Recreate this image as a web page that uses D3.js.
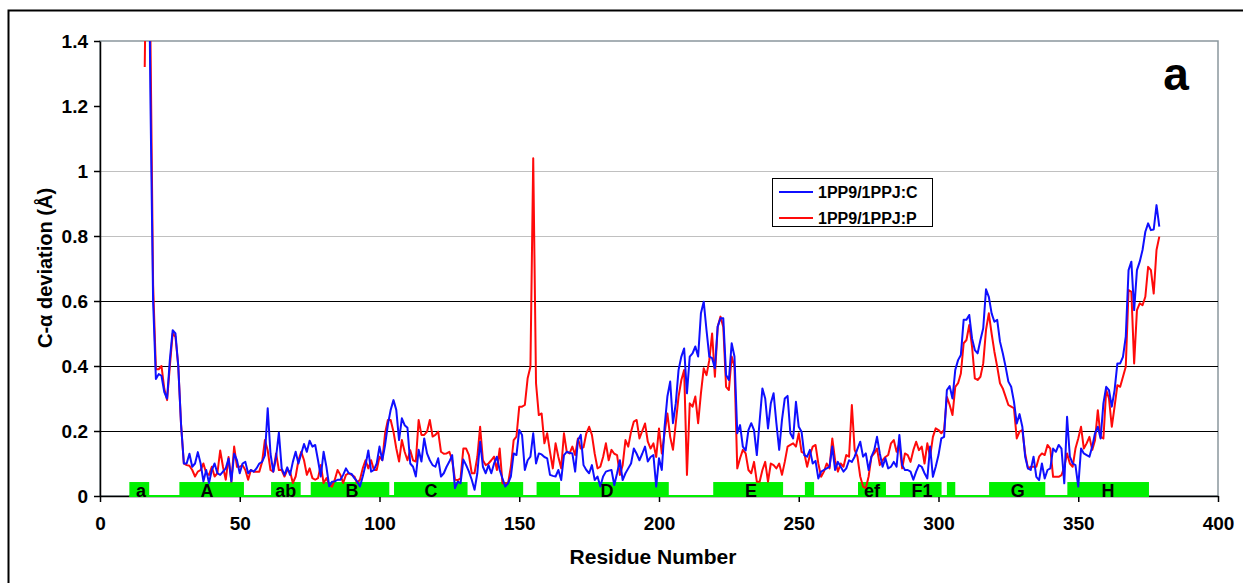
<!DOCTYPE html>
<html>
<head>
<meta charset="utf-8">
<script src="https://cdn.jsdelivr.net/npm/d3@7"></script>
<style>
  body { margin: 0; background: #fff; }
  text { font-family: Arial, "Liberation Sans", sans-serif; font-weight: bold; }
</style>
</head>
<body>
<div id="chart"></div>
<script>
// data (residue numbers start at 16)
var firstResidue = 16;

var seriesC = [
  2.4, 2.2, 1.25, 0.6,
  0.36, 0.375, 0.37, 0.32, 0.30, 0.42, 0.51, 0.50, 0.40, 0.22,
  0.10, 0.10, 0.13, 0.09, 0.10, 0.135, 0.10, 0.045, 0.08, 0.04,
  0.08, 0.10, 0.07, 0.065, 0.075, 0.085, 0.115, 0.045, 0.13, 0.11,
  0.07, 0.10, 0.105, 0.07, 0.08, 0.075, 0.085, 0.10, 0.105, 0.125,
  0.27, 0.13, 0.075, 0.12, 0.195, 0.085, 0.065, 0.088, 0.065, 0.105,
  0.136, 0.10, 0.13, 0.16, 0.136, 0.17, 0.152, 0.157, 0.11, 0.06,
  0.136, 0.09, 0.03, 0.044, 0.045, 0.05, 0.05, 0.065, 0.085, 0.07,
  0.068, 0.055, 0.045, 0.029, 0.06, 0.095, 0.14, 0.075, 0.08, 0.10,
  0.152, 0.11, 0.157, 0.22, 0.265, 0.295, 0.265, 0.172, 0.239, 0.218,
  0.21, 0.10, 0.09, 0.06, 0.142, 0.106, 0.177, 0.131, 0.11, 0.095,
  0.09, 0.116, 0.06, 0.07, 0.09, 0.106, 0.126, 0.024, 0.044, 0.039,
  0.112, 0.095, 0.075, 0.05, 0.019, 0.07, 0.167, 0.09, 0.07, 0.095,
  0.07, 0.10, 0.121, 0.08, 0.054, 0.029, 0.039, 0.06, 0.131, 0.126,
  0.203, 0.188, 0.08, 0.11, 0.121, 0.193, 0.10, 0.131, 0.128, 0.12,
  0.116, 0.065, 0.062, 0.06, 0.08, 0.049, 0.126, 0.136, 0.133, 0.131,
  0.075, 0.172, 0.188, 0.095, 0.08, 0.07, 0.095, 0.049, 0.06, 0.029,
  0.06, 0.075, 0.078, 0.08, 0.034, 0.07, 0.11, 0.049, 0.07, 0.085,
  0.10, 0.146, 0.13, 0.11, 0.13, 0.152, 0.106, 0.12, 0.126, 0.029,
  0.116, 0.08, 0.213, 0.306, 0.352, 0.224, 0.285, 0.388, 0.429, 0.454,
  0.316, 0.429, 0.439, 0.46, 0.429, 0.562, 0.598, 0.51, 0.429, 0.424,
  0.393, 0.521, 0.547, 0.547, 0.372, 0.357, 0.47, 0.429, 0.193, 0.218,
  0.152, 0.14, 0.203, 0.224, 0.203, 0.126, 0.23, 0.331, 0.30, 0.208,
  0.285, 0.316, 0.224, 0.142, 0.234, 0.30, 0.308, 0.193, 0.177, 0.29,
  0.213, 0.198, 0.126, 0.121, 0.142, 0.10, 0.108, 0.054, 0.075, 0.08,
  0.085, 0.09, 0.152, 0.08, 0.105, 0.09, 0.075, 0.085, 0.11, 0.105,
  0.121, 0.145, 0.167, 0.121, 0.131, 0.08, 0.121, 0.141, 0.182, 0.131,
  0.09, 0.116, 0.085, 0.09, 0.105, 0.09, 0.188, 0.095, 0.08, 0.08,
  0.075, 0.05, 0.075, 0.095, 0.09, 0.07, 0.054, 0.152, 0.059, 0.09,
  0.126, 0.177, 0.182, 0.326, 0.338, 0.30, 0.388, 0.418, 0.434, 0.542,
  0.542, 0.557, 0.485, 0.449, 0.439, 0.48, 0.516, 0.636, 0.613, 0.562,
  0.536, 0.542, 0.475, 0.439, 0.398, 0.352, 0.336, 0.29, 0.223, 0.252,
  0.213, 0.121, 0.085, 0.08, 0.121, 0.059, 0.049, 0.10, 0.054, 0.08,
  0.085, 0.146, 0.136, 0.157, 0.146, 0.039, 0.244, 0.121, 0.10, 0.095,
  0.029, 0.146, 0.131, 0.126, 0.121, 0.152, 0.193, 0.213, 0.177, 0.285,
  0.336, 0.326, 0.275, 0.326, 0.408, 0.408, 0.428, 0.49, 0.695, 0.721,
  0.572, 0.695, 0.721, 0.757, 0.813, 0.839, 0.818, 0.82, 0.895, 0.829
];

var seriesP = [
  1.32, 2.0, 1.45, 0.65,
  0.39, 0.39, 0.40, 0.33, 0.295, 0.40, 0.50, 0.49, 0.40, 0.22,
  0.10, 0.095, 0.093, 0.08, 0.06, 0.075, 0.08, 0.10, 0.07, 0.065,
  0.09, 0.06, 0.07, 0.14, 0.09, 0.05, 0.12, 0.044, 0.152, 0.09,
  0.09, 0.095, 0.08, 0.05, 0.08, 0.075, 0.075, 0.075, 0.105, 0.172,
  0.14, 0.08, 0.075, 0.131, 0.08, 0.08, 0.06, 0.08, 0.075, 0.04,
  0.06, 0.11, 0.136, 0.11, 0.065, 0.085, 0.055, 0.05, 0.055, 0.095,
  0.04, 0.055, 0.035, 0.029, 0.05, 0.08, 0.065, 0.04, 0.065, 0.07,
  0.065, 0.06, 0.04, 0.05, 0.085, 0.11, 0.085, 0.11, 0.08, 0.08,
  0.121, 0.11, 0.193, 0.234, 0.234, 0.198, 0.147, 0.106, 0.172, 0.136,
  0.11, 0.141, 0.11, 0.106, 0.234, 0.188, 0.188, 0.198, 0.234, 0.183,
  0.188, 0.198, 0.136, 0.13, 0.131, 0.136, 0.11, 0.05, 0.049, 0.054,
  0.146, 0.146, 0.126, 0.07, 0.07, 0.12, 0.213, 0.11, 0.095, 0.10,
  0.11, 0.121, 0.08, 0.146, 0.039, 0.039, 0.039, 0.09, 0.172, 0.183,
  0.275, 0.275, 0.28, 0.362, 0.398, 1.039, 0.347, 0.249, 0.254, 0.162,
  0.193, 0.136, 0.085, 0.162, 0.12, 0.085, 0.193, 0.136, 0.131, 0.152,
  0.126, 0.177, 0.146, 0.15, 0.193, 0.213, 0.188, 0.13, 0.085, 0.09,
  0.12, 0.162, 0.11, 0.142, 0.13, 0.126, 0.065, 0.095, 0.172, 0.152,
  0.198, 0.229, 0.234, 0.177, 0.20, 0.223, 0.167, 0.146, 0.162, 0.12,
  0.208, 0.131, 0.193, 0.254, 0.182, 0.142, 0.224, 0.306, 0.357, 0.388,
  0.065, 0.285, 0.275, 0.306, 0.224, 0.316, 0.393, 0.372, 0.418, 0.50,
  0.367, 0.521, 0.552, 0.52, 0.336, 0.326, 0.429, 0.398, 0.085, 0.116,
  0.142, 0.131, 0.08, 0.07, 0.105, 0.044, 0.044, 0.08, 0.105, 0.044,
  0.10, 0.095, 0.085, 0.10, 0.065, 0.105, 0.152, 0.157, 0.162, 0.152,
  0.193, 0.136, 0.131, 0.09, 0.126, 0.152, 0.157, 0.10, 0.059, 0.075,
  0.10, 0.085, 0.177, 0.11, 0.075, 0.10, 0.09, 0.126, 0.121, 0.28,
  0.142, 0.121, 0.06, 0.029, 0.024, 0.06, 0.121, 0.131, 0.146, 0.095,
  0.11, 0.12, 0.126, 0.162, 0.172, 0.136, 0.162, 0.085, 0.131, 0.126,
  0.105, 0.141, 0.167, 0.141, 0.152, 0.10, 0.162, 0.121, 0.182, 0.208,
  0.203, 0.193, 0.203, 0.305, 0.28, 0.249, 0.336, 0.347, 0.377, 0.47,
  0.48, 0.526, 0.46, 0.362, 0.357, 0.367, 0.408, 0.511, 0.562, 0.50,
  0.444, 0.398, 0.347, 0.331, 0.306, 0.28, 0.275, 0.27, 0.177, 0.198,
  0.203, 0.131, 0.085, 0.09, 0.09, 0.09, 0.121, 0.131, 0.126, 0.157,
  0.146, 0.059, 0.059, 0.059, 0.064, 0.09, 0.131, 0.10, 0.09, 0.146,
  0.177, 0.213, 0.146, 0.162, 0.182, 0.142, 0.172, 0.264, 0.182, 0.177,
  0.326, 0.30, 0.213, 0.275, 0.341, 0.336, 0.367, 0.398, 0.634, 0.628,
  0.408, 0.572, 0.593, 0.587, 0.613, 0.705, 0.695, 0.623, 0.757, 0.798
];

var seriesNames = ["1PP9/1PPJ:C", "1PP9/1PPJ:P"];

// secondary structure bars (residue ranges) and their labels
var helixStart = [10.5, 28.4, 61.2, 75.4, 105.2, 136.3, 156.2, 171.4, 219.4, 252.2, 271.2, 286.2, 303, 318.1, 346.1];
var helixEnd   = [17.6, 51.5, 71.8, 103.5, 131.5, 151.4, 164.6, 203.5, 244.4, 255.5, 281.2, 301.1, 306, 338.2, 375.3];
var helixLabels = ["a", "A", "ab", "B", "C", "D", "E", "ef", "F1", "G", "H"];
var helixLabelPos = [14.7, 38.3, 66.5, 90.2, 118.4, 181.4, 232.9, 276.2, 294.1, 328.4, 360.6];
var helixLevel = 0.043;

var xTicks = [0, 50, 100, 150, 200, 250, 300, 350, 400];
var yTicks = [0, 0.2, 0.4, 0.6, 0.8, 1, 1.2, 1.4];
var darkGrid = [0.2, 0.4, 0.6];
var lightGrid = [0.8, 1.0];

// 1. SVG and plot area
var svgWidth = 1243;
var svgHeight = 583;
var margin = { top: 41, right: 25, bottom: 87, left: 100 };
var width = 1218 - margin.left;
var height = 496 - margin.top;

var svg = d3.select("#chart").append("svg")
    .attr("width", svgWidth)
    .attr("height", svgHeight);

// outer frame
svg.append("rect")
    .attr("x", 8.5).attr("y", 10.5)
    .attr("width", 1260).attr("height", 600)
    .attr("fill", "none").attr("stroke", "#000").attr("stroke-width", 2);

var chartGroup = svg.append("g")
    .attr("transform", `translate(${margin.left}, ${margin.top})`);

// 2. scales
var xScale = d3.scaleLinear().domain([0, 400]).range([0, width]);
var yScale = d3.scaleLinear().domain([0, 1.4]).range([height, 0]);

// plot border (top/right grey)
chartGroup.append("rect")
    .attr("x", 0).attr("y", 0)
    .attr("width", width).attr("height", height)
    .attr("fill", "none").attr("stroke", "#8a979d").attr("stroke-width", 1.5);

// 3. gridlines
chartGroup.selectAll(".gridLight")
    .data(lightGrid).enter().append("line")
    .attr("x1", 0).attr("x2", width)
    .attr("y1", d => yScale(d)).attr("y2", d => yScale(d))
    .attr("stroke", "#c0c0c0").attr("stroke-width", 1)
    .attr("shape-rendering", "crispEdges");

chartGroup.selectAll(".gridDark")
    .data(darkGrid).enter().append("line")
    .attr("x1", 0).attr("x2", width)
    .attr("y1", d => yScale(d)).attr("y2", d => yScale(d))
    .attr("stroke", "#000").attr("stroke-width", 1)
    .attr("shape-rendering", "crispEdges");

// 4. axes
var bottomAxis = d3.axisBottom(xScale).tickValues(xTicks).tickSize(6).tickSizeOuter(0).tickFormat(d3.format("d"));
var leftAxis = d3.axisLeft(yScale).tickValues(yTicks).tickSize(6).tickSizeOuter(0).tickFormat(d => String(+d.toFixed(1)));

var xAxis = chartGroup.append("g")
    .attr("transform", `translate(0, ${height})`)
    .call(bottomAxis);
xAxis.selectAll("text").attr("font-size", "19px").attr("y", 34).attr("dy", 0).attr("fill", "#000");

var yAxis = chartGroup.append("g").call(leftAxis);
yAxis.selectAll("text").attr("font-size", "19px").attr("x", -12).attr("fill", "#000");

svg.selectAll(".domain, .tick line").attr("stroke", "#000").attr("stroke-width", 1.5);

// 5. green structure bars
var helixGroup = chartGroup.append("g");
helixGroup.append("line")
    .attr("x1", xScale(helixStart[0])).attr("x2", xScale(helixEnd[helixEnd.length - 1]))
    .attr("y1", yScale(0)).attr("y2", yScale(0))
    .attr("stroke", "#00f000").attr("stroke-width", 2);

helixGroup.selectAll("rect")
    .data(helixStart).enter().append("rect")
    .attr("x", d => xScale(d))
    .attr("y", yScale(helixLevel))
    .attr("width", (d, i) => xScale(helixEnd[i]) - xScale(d))
    .attr("height", yScale(0) - yScale(helixLevel) + 1)
    .attr("fill", "#00f000");

// 6. data lines (clipped to the plot)
chartGroup.append("clipPath").attr("id", "plotClip")
    .append("rect").attr("x", 0).attr("y", 0).attr("width", width).attr("height", height);

var line = d3.line()
    .x((d, i) => xScale(firstResidue + i))
    .y(d => yScale(d));

var lines = chartGroup.append("g").attr("clip-path", "url(#plotClip)");
lines.append("path").datum(seriesP)
    .attr("d", line).attr("fill", "none")
    .attr("stroke", "#ff0a0a").attr("stroke-width", 2).attr("stroke-linejoin", "round");
lines.append("path").datum(seriesC)
    .attr("d", line).attr("fill", "none")
    .attr("stroke", "#0f0fff").attr("stroke-width", 2).attr("stroke-linejoin", "round");

// structure labels
chartGroup.selectAll(".helixText")
    .data(helixLabels).enter().append("text")
    .attr("x", (d, i) => xScale(helixLabelPos[i]))
    .attr("y", yScale(0) + 1)
    .attr("text-anchor", "middle")
    .attr("font-size", "18px")
    .text(d => d);

// 7. legend
var legend = svg.append("g").attr("transform", "translate(772, 178)");
legend.append("rect")
    .attr("x", 0.5).attr("y", 0.5).attr("width", 160).attr("height", 48)
    .attr("fill", "#fff").attr("stroke", "#000").attr("stroke-width", 1);
var legendColors = ["#0f0fff", "#ff0a0a"];
seriesNames.forEach(function(name, i) {
  legend.append("line")
      .attr("x1", 7).attr("x2", 41)
      .attr("y1", 14 + i * 26).attr("y2", 14 + i * 26)
      .attr("stroke", legendColors[i]).attr("stroke-width", 2);
  legend.append("text")
      .attr("x", 46).attr("y", 20 + i * 26)
      .attr("font-size", "16px")
      .text(name);
});

// 8. panel label and axis titles
svg.append("text")
    .attr("x", 1176).attr("y", 90)
    .attr("text-anchor", "middle")
    .attr("font-size", "46px")
    .text("a");

svg.append("text")
    .attr("x", 653).attr("y", 564)
    .attr("text-anchor", "middle")
    .attr("font-size", "21px")
    .text("Residue Number");

svg.append("text")
    .attr("transform", "translate(52, 268) rotate(-90)")
    .attr("text-anchor", "middle")
    .attr("font-size", "20px")
    .text("C-α deviation (Å)");
</script>
</body>
</html>
